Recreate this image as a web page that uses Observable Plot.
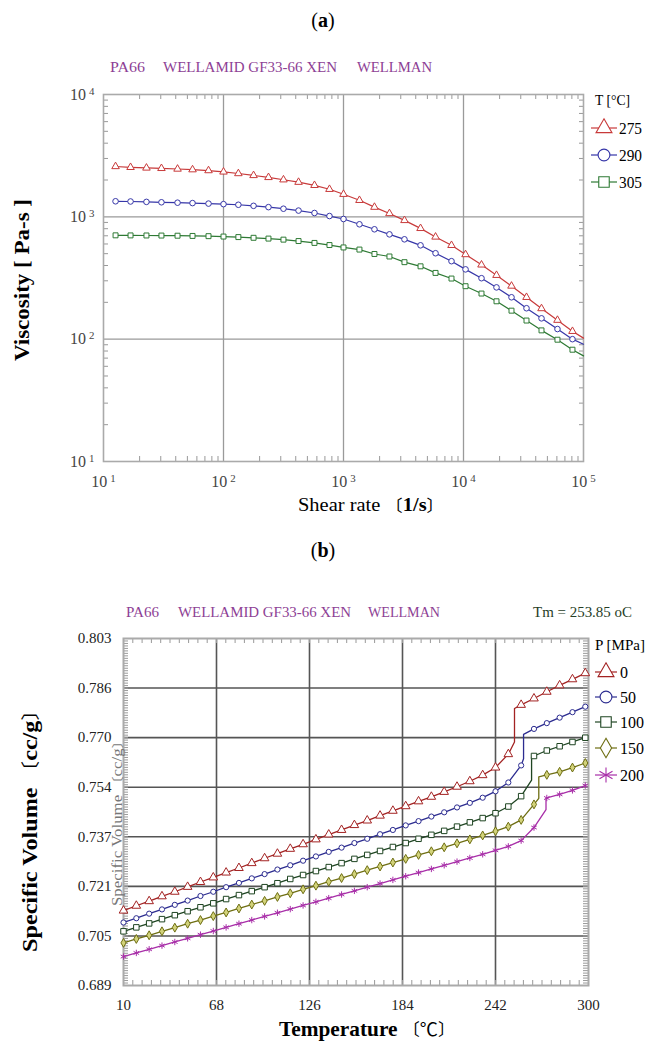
<!DOCTYPE html>
<html><head><meta charset="utf-8">
<script src="https://cdn.jsdelivr.net/npm/d3@7"></script>
<script src="https://cdn.jsdelivr.net/npm/@observablehq/plot@0.6"></script>
<style>
body{margin:0;background:#fff;}
#page{position:relative;width:647px;height:1041px;overflow:hidden;background:#fff;}
#page svg{position:absolute;left:0;}
</style></head>
<body><div id="page"></div>
<script>
// ---------- Panel (a) data : viscosity vs shear rate ----------
const meltTemps = ["275", "290", "305"];
const shearRate = [12.6, 16.8, 22.8, 30.4, 41.4, 55.2, 75.0, 100, 133, 178, 237, 316, 422, 573, 764, 1000,
  1358, 1811, 2415, 3221, 4385, 5848, 7943, 10400, 14125, 18836, 25119, 33497, 44668, 60674, 80910, 100000];
const visc275 = [2580, 2540, 2510, 2490, 2460, 2430, 2390, 2330, 2260, 2180, 2100, 2010, 1920, 1810, 1680, 1530,
  1365, 1200, 1065, 935, 805, 685, 585, 492, 405, 333, 272, 220, 178, 143, 116, 102];
const visc290 = [1340, 1335, 1325, 1315, 1305, 1295, 1283, 1270, 1255, 1230, 1200, 1165, 1125, 1075, 1015, 960,
  869, 791, 719, 655, 585, 504, 434, 372, 315, 265, 220, 179, 148, 121, 100, 91];
const visc305 = [706, 705, 704, 703, 701, 698, 695, 690, 683, 674, 664, 651, 634, 612, 588, 562,
  540, 497, 474, 426, 394, 348, 313, 271, 236, 204, 171, 142, 118, 99, 82, 73];
const shearTicks = [10, 100, 1000, 10000, 100000];
const viscTicks = [10, 100, 1000, 10000];
const colorsA = ["#c83a3a", "#3636a8", "#2e7a34"];

// ---------- Panel (b) data : PVT ----------
const pressures = ["0", "50", "100", "150", "200"];
const tempGrid = [10, 18, 26, 34, 42, 50, 58, 66, 74, 82, 90, 98, 106, 114, 122, 130, 138, 146, 154, 162, 170,
  178, 186, 194, 202, 210, 218, 226, 234, 242, 250, 258, 266, 274, 282, 290, 298];
const vol0 = [.7136, .7152, .7167, .7183, .7198, .7214, .7230, .7245, .7261, .7276, .7292, .7308, .7323, .7339, .7354,
  .7370, .7386, .7401, .7417, .7432, .7448, .7464, .7479, .7495, .7510, .7526, .7543, .7561, .7581, .7606, .7650,
  .7812, .7833, .7855, .7876, .7896, .7916];
const vol50 = [.7097, .7111, .7126, .7140, .7155, .7169, .7184, .7198, .7213, .7227, .7242, .7256, .7271, .7285, .7300,
  .7314, .7329, .7343, .7358, .7372, .7387, .7401, .7416, .7430, .7445, .7459, .7475, .7490, .7507, .7528, .7557,
  .7613, .7733, .7752, .7770, .7788, .7806];
const vol100 = [.7068, .7081, .7094, .7108, .7121, .7134, .7147, .7160, .7174, .7187, .7200, .7213, .7226, .7240, .7253,
  .7266, .7279, .7292, .7306, .7319, .7332, .7345, .7358, .7372, .7385, .7398, .7412, .7426, .7440, .7456, .7478,
  .7512, .7644, .7662, .7676, .7690, .7704];
const vol150 = [.7030, .7043, .7055, .7068, .7080, .7093, .7105, .7118, .7130, .7143, .7156, .7168, .7181, .7193, .7206,
  .7218, .7231, .7243, .7256, .7269, .7281, .7294, .7306, .7319, .7331, .7344, .7357, .7370, .7383, .7397, .7412,
  .7434, .7485, .7582, .7592, .7606, .7621];
const vol200 = [.6985, .6997, .7009, .7021, .7033, .7045, .7057, .7069, .7081, .7093, .7105, .7117, .7129, .7141, .7153,
  .7165, .7177, .7189, .7201, .7213, .7225, .7237, .7249, .7261, .7273, .7285, .7297, .7309, .7321, .7334, .7347,
  .7366, .7409, .7506, .7518, .7531, .7547];
const transT = [253.85, 259.5, 264.5, 269, 273.5];
const transLow = [.7690, .7635, .7565, .7505, .7468];
const transHigh = [.7800, .7715, .7640, .7575, .7504];
const tempTicks = [10, 68, 126, 184, 242, 300];
const volTickLabels = ["0.689", "0.705", "0.721", "0.737", "0.754", "0.770", "0.786", "0.803"];
const colorsB = ["#a32323", "#2c2c90", "#1f4522", "#6e6e12", "#a82ea8"];
const fillsB = ["#fff", "#fff", "#fff", "#d2d27a", "#fff"];
const symbolsB = ["triangle", "circle", "square", "diamond", "asterisk"];
const radiiB = [3.2, 2.6, 3.1, 2.7, 3.0];

// ---------- build tables ----------
const viscRows = [];
[visc275, visc290, visc305].forEach((arr, s) => arr.forEach((v, i) =>
  viscRows.push({T: meltTemps[s], shear: shearRate[i], visc: v, marker: i < shearRate.length - 1})));

const pvtMarkers = [], pvtLine = [];
[vol0, vol50, vol100, vol150, vol200].forEach((arr, s) => {
  const rows = arr.map((v, i) => ({P: pressures[s], temp: tempGrid[i], vol: v}));
  pvtMarkers.push(...rows);
  pvtLine.push(...rows.filter(r => r.temp < transT[s]));
  pvtLine.push({P: pressures[s], temp: transT[s], vol: transLow[s]}, {P: pressures[s], temp: transT[s], vol: transHigh[s]});
  pvtLine.push(...rows.filter(r => r.temp > transT[s]));
});

const page = document.getElementById("page");
const serif = "'Liberation Serif', 'Noto Sans CJK SC', serif";

// ---------- Panel (a) ----------
const A = {w: 647, h: 440, mt: 14, mb: 59, ml: 103, mr: 64};
const fwA = A.w - A.ml - A.mr, fhA = A.h - A.mt - A.mb;
const minorShear = [], minorVisc = [];
for (let e = 1; e <= 4; e++) for (let m = 2; m <= 9; m++) minorShear.push(m * 10 ** e);
for (let e = 1; e <= 3; e++) for (let m = 2; m <= 9; m++) minorVisc.push(m * 10 ** e);
const expFmt = d => "10^" + Math.round(Math.log10(d));

const svgA = Plot.plot({
  width: A.w, height: A.h, marginTop: A.mt, marginBottom: A.mb, marginLeft: A.ml, marginRight: A.mr,
  style: {background: "transparent", fontFamily: serif, fontSize: "16px", color: "#444", overflow: "visible"},
  x: {type: "log", domain: [10, 1e5]},
  y: {type: "log", domain: [10, 1e4]},
  color: {domain: meltTemps, range: colorsA},
  symbol: {domain: meltTemps, range: ["triangle", "circle", "square"]},
  marks: [
    Plot.ruleX(shearTicks.slice(1, -1), {x: d => d, stroke: "#9a9a9a", strokeWidth: 1.3}),
    Plot.ruleY(viscTicks.slice(1, -1), {y: d => d, stroke: "#9a9a9a", strokeWidth: 1.3}),
    Plot.tickY(minorVisc, {y: d => d, insetRight: fwA - 5, stroke: "#999"}),
    Plot.tickY(minorVisc, {y: d => d, insetLeft: fwA - 4, stroke: "#999"}),
    Plot.tickX(minorShear, {x: d => d, insetBottom: fhA - 5, stroke: "#999"}),
    Plot.tickX(minorShear, {x: d => d, insetTop: fhA - 5, stroke: "#999"}),
    Plot.frame({stroke: "#aaa", strokeWidth: 1.6}),
    Plot.line(viscRows, {x: "shear", y: "visc", stroke: "T", strokeWidth: 1.2}),
    Plot.dot(viscRows.filter(d => d.marker), {x: "shear", y: "visc", stroke: "T", symbol: "T", fill: "white", r: 2.8, strokeWidth: 1}),
    Plot.axisX({ticks: shearTicks, tickSize: 0, tickPadding: 14, tickFormat: expFmt, label: null, fontSize: 16}),
    Plot.axisY({ticks: viscTicks, tickSize: 0, tickPadding: 9, tickFormat: expFmt, label: null, fontSize: 16})
  ]
});
svgA.style.top = "80px";
d3.select(svgA).selectAll("text").each(function () {
  const m = /^10\^(\d)$/.exec(this.textContent);
  if (m) {
    const s = d3.select(this); s.text(null);
    s.append("tspan").text("10");
    s.append("tspan").attr("dx", 3).attr("dy", "-0.45em").attr("font-size", "0.68em").text(m[1]);
  }
});
page.appendChild(svgA);

// ---------- Panel (b) ----------
const B = {w: 647, h: 416, mt: 13, mb: 56, ml: 123, mr: 59};
const fwB = B.w - B.ml - B.mr, fhB = B.h - B.mt - B.mb;
const volStep = (0.803 - 0.689) / 7;
const volTickValues = volTickLabels.map((_, i) => 0.689 + i * volStep);
const minorVol = d3.range(141).map(i => 0.689 + i * (0.803 - 0.689) / 140);
const minorTemp = d3.range(51).map(i => 10 + i * 5.8);

const svgB = Plot.plot({
  width: B.w, height: B.h, marginTop: B.mt, marginBottom: B.mb, marginLeft: B.ml, marginRight: B.mr,
  style: {background: "transparent", fontFamily: serif, fontSize: "15px", color: "#222", overflow: "visible"},
  x: {domain: [10, 300]},
  y: {domain: [0.689, 0.803]},
  color: {domain: pressures, range: colorsB},
  symbol: {domain: pressures, range: symbolsB},
  marks: [
    Plot.ruleX(tempTicks.slice(1, -1), {x: d => d, stroke: "#555", strokeWidth: 1.6}),
    Plot.ruleY(volTickValues.slice(1, -1), {y: d => d, stroke: "#555", strokeWidth: 1.6}),
    Plot.tickY(minorVol, {y: d => d, insetRight: fwB - 5, stroke: "#999"}),
    Plot.tickY(minorVol, {y: d => d, insetLeft: fwB - 5, stroke: "#999"}),
    Plot.tickX(minorTemp, {x: d => d, insetBottom: fhB - 5, stroke: "#999"}),
    Plot.tickX(minorTemp, {x: d => d, insetTop: fhB - 5, stroke: "#999"}),
    Plot.frame({stroke: "#aaa", strokeWidth: 2}),
    Plot.line(pvtLine, {x: "temp", y: "vol", stroke: "P", strokeWidth: 1.3}),
    ...pressures.map((p, s) => Plot.dot(pvtMarkers.filter(d => d.P === p),
      {x: "temp", y: "vol", stroke: "P", symbol: "P", fill: fillsB[s], r: radiiB[s], strokeWidth: 1})),
    Plot.axisX({ticks: tempTicks, tickSize: 0, tickPadding: 14, label: null, fontSize: 15}),
    Plot.axisY({ticks: volTickValues, tickSize: 0, tickPadding: 12, label: null, fontSize: 15,
      tickFormat: d => volTickLabels[Math.round((d - 0.689) / volStep)]})
  ]
});
svgB.style.top = "625px";
page.appendChild(svgB);

// ---------- titles, axis titles and legends (overlay) ----------
const ov = d3.create("svg").attr("width", 647).attr("height", 1041)
  .style("top", "0px").style("pointer-events", "none").style("font-family", serif);
function txt(x, y, s, o = {}) {
  const t = ov.append("text").attr("x", x).attr("y", y).text(s)
    .attr("font-size", o.size || 15).attr("fill", o.fill || "#000")
    .attr("text-anchor", o.anchor || "start").attr("font-weight", o.weight || "normal");
  if (o.len) t.attr("textLength", o.len).attr("lengthAdjust", "spacingAndGlyphs");
  if (o.rot) t.attr("transform", `rotate(-90 ${x} ${y})`);
  return t;
}
function parts(x, y, list, o = {}) {
  const t = ov.append("text").attr("x", x).attr("y", y).attr("font-size", o.size || 15)
    .attr("text-anchor", o.anchor || "middle").attr("fill", o.fill || "#000");
  if (o.rot) t.attr("transform", `rotate(-90 ${x} ${y})`);
  if (o.len) t.attr("textLength", o.len).attr("lengthAdjust", "spacingAndGlyphs");
  list.forEach(([s, w, f, fs]) => {
    const sp = t.append("tspan").text(s).attr("font-weight", w || "normal");
    if (f) sp.attr("font-family", f);
    if (fs) sp.attr("font-size", fs);
  });
  return t;
}
const cjk = "'Noto Sans CJK SC', sans-serif";
// panel (a)
parts(323, 27, [["("], ["a", "bold"], [")"]], {size: 20});
const purple = "#8e3f95";
txt(110, 72, "PA66", {size: 15, fill: purple, len: 35});
txt(163, 72, "WELLAMID GF33-66 XEN", {size: 15, fill: purple, len: 174});
txt(357, 72, "WELLMAN", {size: 15, fill: purple, len: 75});
parts(29, 280, [["Viscosity [ Pa-s ]", "bold"]], {size: 20, rot: true, len: 162});
parts(371, 511, [["Shear rate "], ["〔", null, cjk, "0.85em"], ["1/s", "bold"], ["〕", null, cjk, "0.85em"]], {size: 19, len: 146});
txt(595, 105, "T [°C]", {size: 15, len: 35});
const symA = [d3.symbolTriangle, d3.symbolCircle, d3.symbolSquare];
[128, 155, 182].forEach((y, i) => {
  ov.append("line").attr("x1", 591).attr("x2", 617).attr("y1", y).attr("y2", y).attr("stroke", colorsA[i]).attr("stroke-width", 1.2);
  ov.append("path").attr("d", d3.symbol(symA[i], 110)()).attr("transform", `translate(604,${y})`)
    .attr("fill", "white").attr("stroke", colorsA[i]).attr("stroke-width", 1.1);
  txt(619, y + 6, meltTemps[i], {size: 16, len: 23});
});
// panel (b)
parts(323, 557, [["("], ["b", "bold"], [")"]], {size: 20});
txt(126, 617, "PA66", {size: 15, fill: purple, len: 33});
txt(178, 617, "WELLAMID GF33-66 XEN", {size: 15, fill: purple, len: 173});
txt(368, 617, "WELLMAN", {size: 15, fill: purple, len: 72});
txt(533, 617, "Tm = 253.85 oC", {size: 15, fill: "#263d26", len: 99});
parts(122, 820, [["Specific Volume "], ["〔", null, cjk, "0.85em"], ["cc/g"], ["〕", null, cjk, "0.85em"]], {size: 14, rot: true, fill: "#777", len: 172});
parts(37, 826, [["Specific Volume ", "bold"], ["〔", null, cjk, "0.85em"], ["cc/g", "bold"], ["〕", null, cjk, "0.85em"]], {size: 22, rot: true, len: 252});
parts(367, 1036, [["Temperature ", "bold"], ["〔", null, cjk, "0.8em"], ["℃", null, cjk, "0.85em"], ["〕", null, cjk, "0.8em"]], {size: 21, len: 176});
txt(595, 650, "P [MPa]", {size: 15, len: 50});
const symB = [d3.symbolTriangle, d3.symbolCircle, d3.symbolSquare, d3.symbolDiamond, d3.symbolAsterisk];
[672, 697, 722, 748, 775].forEach((y, i) => {
  ov.append("line").attr("x1", 595).attr("x2", 617).attr("y1", y).attr("y2", y).attr("stroke", colorsB[i]).attr("stroke-width", 1.2);
  ov.append("path").attr("d", d3.symbol(symB[i], i === 4 ? 160 : 110)()).attr("transform", `translate(606,${y})`)
    .attr("fill", i === 4 ? "none" : "white").attr("stroke", colorsB[i]).attr("stroke-width", 1.1);
  txt(620, y + 6, pressures[i], {size: 16});
});
page.appendChild(ov.node());
</script></body></html>
